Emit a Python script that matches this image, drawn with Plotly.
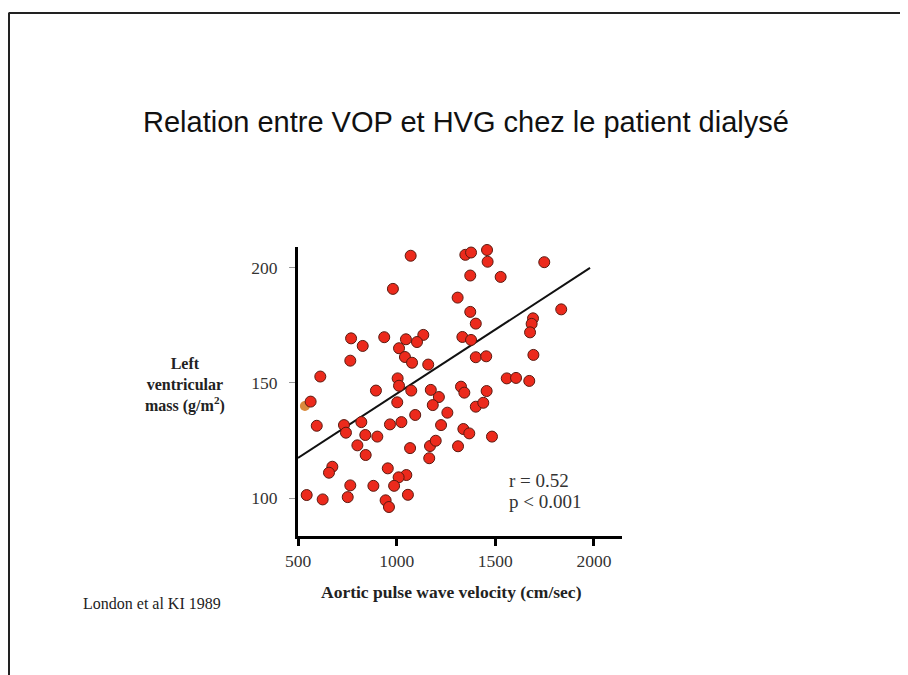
import plotly.graph_objects as go

# Aortic pulse wave velocity (cm/sec) and left ventricular mass (g/m2)
pwv = [1071, 981, 769, 828, 937, 1047, 1135, 1103, 1012, 1042, 1078, 1160, 765,
       1409, 1348, 1377, 1458, 1461, 1748, 1373, 1527, 1309, 1373, 1401, 1834,
       1691, 1684, 1676, 1333, 1377, 1401, 1454, 1693, 1558, 1605, 1672, 613,
       1005, 1012, 895, 1074, 1173, 1214, 1326, 564, 1003, 1183, 1094, 1257,
       595, 733, 821, 966, 1024, 1225, 743, 841, 902, 801, 843, 1068, 1169,
       1198, 1311, 1165, 674, 657, 955, 1049, 1010, 987, 765, 882, 1057, 544,
       625, 752, 944, 961, 1343, 1456, 1401, 1439, 1338, 1368, 1483]
lvm = [205.3, 190.9, 169.4, 166.1, 169.9, 169.0, 170.9, 167.8, 165.1, 161.3, 158.8, 158.0, 159.7,
       212.6, 205.7, 206.7, 207.8, 202.7, 202.5, 196.7, 196.1, 187.1, 180.9, 175.8, 182.0,
       178.1, 175.7, 172.0, 170.0, 168.7, 161.2, 161.6, 162.2, 152.0, 152.2, 150.9, 152.8,
       152.0, 148.8, 146.7, 146.7, 147.0, 143.9, 148.4, 141.9, 141.6, 140.4, 136.1, 137.1,
       131.4, 131.7, 133.0, 132.0, 133.0, 131.7, 128.4, 127.4, 126.7, 122.9, 118.7, 121.7, 122.6,
       124.9, 122.5, 117.3, 113.6, 111.0, 112.9, 110.0, 109.0, 105.3, 105.5, 105.3, 101.4, 101.3,
       99.4, 100.4, 99.0, 96.1, 145.8, 146.5, 139.7, 141.4, 130.0, 128.1, 126.7]

# highlighted (orange) point
pwv_highlight = [535]
lvm_highlight = [140.0]

# regression line end points
fit_x = [500, 1980]
fit_y = [117.4, 200.0]

x_ticks = [500, 1000, 1500, 2000]
y_ticks = [100, 150, 200]

title_text = "Relation entre VOP et HVG chez le patient dialysé"
x_title = "Aortic pulse wave velocity (cm/sec)"
y_title = "Left<br>ventricular<br>mass (g/m<sup>2</sup>)"
stats_r = "r = 0.52"
stats_p = "p < 0.001"
source = "London et al KI 1989"

serif = "Liberation Serif, Times New Roman, serif"
sans = "Liberation Sans, Arial, sans-serif"

fig = go.Figure()
fig.add_trace(go.Scatter(x=pwv_highlight, y=lvm_highlight, mode="markers",
                         marker=dict(size=10, color="#d98a3c", line=dict(width=0)),
                         cliponaxis=False, showlegend=False, hoverinfo="skip"))
fig.add_trace(go.Scatter(x=fit_x, y=fit_y, mode="lines",
                         line=dict(color="#111111", width=2),
                         cliponaxis=False, showlegend=False, hoverinfo="skip"))
fig.add_trace(go.Scatter(x=pwv, y=lvm, mode="markers",
                         marker=dict(size=11, color="#ec2a1c", line=dict(width=1, color="#5a1a10")),
                         cliponaxis=False, showlegend=False))

W, H = 908, 675
OFF = 8  # page body margin
L, T = 298 - OFF, 247 - OFF
pw, ph = 324, 289
R, B = W - L - pw, H - T - ph

# positions given in reference-screen pixels
def px(xp):
    return (xp - OFF - L) / pw

def py(yp):
    return (H - B - (yp - OFF)) / ph

fig.update_layout(
    width=W, height=H,
    margin=dict(l=L, r=R, t=T, b=B, pad=0),
    paper_bgcolor="white", plot_bgcolor="white",
    showlegend=False,
    xaxis=dict(range=[500, 2142], tickvals=x_ticks, ticks="outside", ticklen=7, tickwidth=3,
               tickcolor="black", showline=True, linewidth=3, linecolor="black",
               showgrid=False, zeroline=False,
               tickfont=dict(family=serif, size=17.5, color="#333333")),
    yaxis=dict(range=[83.5, 209.1], tickvals=y_ticks, ticks="outside", ticklen=6, tickwidth=1,
               tickcolor="#999999", showline=True, linewidth=3, linecolor="black",
               showgrid=False, zeroline=False, ticklabelstandoff=8,
               tickfont=dict(family=serif, size=17.5, color="#333333")),
    annotations=[
        dict(text=title_text, x=px(466), y=py(122), xref="paper", yref="paper",
             showarrow=False, xanchor="center", yanchor="middle",
             font=dict(family=sans, size=29, color="#111111")),
        dict(text="<b>" + y_title + "</b>", x=px(185), y=py(385), xref="paper", yref="paper",
             showarrow=False, xanchor="center", yanchor="middle", align="center",
             font=dict(family=serif, size=16, color="#222222")),
        dict(text="<b>" + x_title + "</b>", x=px(451), y=py(592), xref="paper", yref="paper",
             showarrow=False, xanchor="center", yanchor="middle",
             font=dict(family=serif, size=17.5, color="#222222")),
        dict(text=stats_r, x=px(507), y=py(480), xref="paper", yref="paper",
             showarrow=False, xanchor="left", yanchor="middle",
             font=dict(family=serif, size=19, color="#333333")),
        dict(text=stats_p, x=px(507), y=py(501), xref="paper", yref="paper",
             showarrow=False, xanchor="left", yanchor="middle",
             font=dict(family=serif, size=19, color="#333333")),
        dict(text=source, x=px(81), y=py(603), xref="paper", yref="paper",
             showarrow=False, xanchor="left", yanchor="middle",
             font=dict(family=serif, size=16, color="#222222")),
    ],
    shapes=[
        dict(type="line", xref="paper", yref="paper", x0=px(8.5), x1=px(920), y0=py(13), y1=py(13),
             line=dict(color="#222222", width=2)),
        dict(type="line", xref="paper", yref="paper", x0=px(9), x1=px(9), y0=py(13), y1=py(690),
             line=dict(color="#222222", width=2)),
    ],
)

fig.write_html("out.html")
